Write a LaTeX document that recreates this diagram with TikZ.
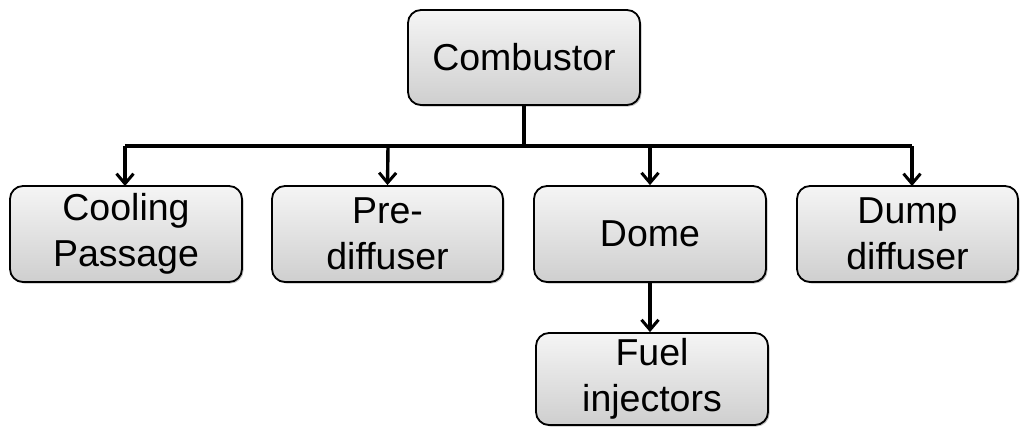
\documentclass[tikz,border=0pt]{standalone}
\usepackage{fontspec}
\setmainfont{Liberation Sans}
\usetikzlibrary{arrows.meta,shadows}
\begin{document}
\begin{tikzpicture}[x=1pt,y=-1pt,
  box/.style={draw=black,line width=1.8pt,rounded corners=13pt,
    top color=gray!8,bottom color=gray!38,
    drop shadow={shadow xshift=1.5pt,shadow yshift=-1.5pt,fill=black,opacity=0.25},
    align=center,font=\fontsize{37.5}{46}\selectfont,inner sep=0pt},
  link/.style={line width=3.4pt,black},
  arr/.style={link,-{Straight Barb[length=10pt,width=17pt,line width=3pt]}}]
\useasboundingbox (0,0) rectangle (1024,428);
\node[box,minimum width=232pt,minimum height=95pt] (comb) at (524,57.5) {Combustor};
\node[box,minimum width=232pt,minimum height=96pt] (cool) at (126,234) {Cooling\\Passage};
\node[box,minimum width=231pt,minimum height=96pt] (pre) at (387.5,234) {Pre-\\diffuser};
\node[box,minimum width=232pt,minimum height=96pt] (dome) at (650,234) {Dome};
\node[box,minimum width=221pt,minimum height=96pt] (dump) at (907.5,234) {Dump\\diffuser};
\node[box,minimum width=232pt,minimum height=92pt,text depth=8pt] (fuel) at (652,379) {Fuel\\injectors};
\coordinate (bus) at (524,146);
\coordinate (busl) at (125,146);
\coordinate (busr) at (912,146);
\draw[link] (comb.south) -- (bus);
\draw[link] (busl) -- (busr);
\draw[arr] (busl) -- (125,186);
\draw[arr] (388,146) -- (pre.north);
\draw[arr] (650,146) -- (dome.north);
\draw[arr] (busr) -- (912,186);
\draw[arr] (dome.south) -- (dome.south |- fuel.north);
\end{tikzpicture}
\end{document}
